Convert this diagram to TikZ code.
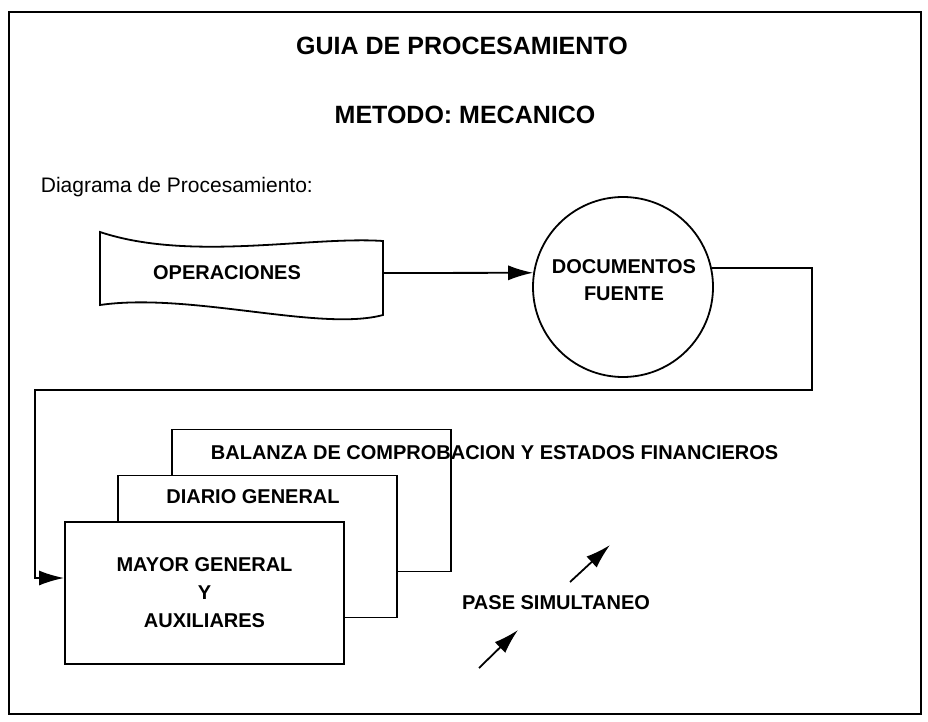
\documentclass[tikz,border=0pt]{standalone}
\usepackage{fontspec}
\setmainfont{Liberation Sans}
\usepackage{tikz}
\usetikzlibrary{arrows.meta}

\begin{document}
\begin{tikzpicture}[x=1pt,y=-1pt,>={Latex[length=25pt,width=15pt]},line width=1.8pt,
	etiq/.style={font=\bfseries\fontsize{20}{27}\selectfont,align=center,inner sep=0pt},
	hoja/.style={draw,fill=white,minimum width=279pt,minimum height=142pt,
		font=\bfseries\fontsize{20}{28}\selectfont,align=center},
	doc/.style={draw,circle,minimum size=180pt,inner sep=0pt}]
	\useasboundingbox (0,0) rectangle (928,722);
	\draw [line width=2.2pt] (9,12) rectangle (921,714);

	\node [font=\bfseries\fontsize{25}{30}\selectfont]	(titulo)	at (462,46)		{GUIA DE PROCESAMIENTO};
	\node [font=\bfseries\fontsize{25}{30}\selectfont]	(metodo)	at (465,115)	{METODO: MECANICO};
	\node [font=\fontsize{21}{25}\selectfont,anchor=base west,inner sep=0pt]	(diag)	at (40,193)	{Diagrama de Procesamiento:};

	% documento de operaciones
	\draw (100,232) .. controls (190,262) and (310,236) .. (383,241) -- (383,315)
		.. controls (320,332) and (190,292) .. (100,305) -- cycle;
	\node [etiq]	(ops)		at (227,273)	{OPERACIONES};
	\coordinate		(ops-e)		at (383,273);

	\node [doc]		(docs)		at (623,287)	{};
	\node [etiq]	(docs-txt)	at (624,280)	{DOCUMENTOS\\FUENTE};

	\draw [->] (ops-e) -- (docs.171);

	% hojas apiladas
	\node [hoja]				(balanza)		at (311.5,500.5)	{};
	\node [etiq,anchor=west]	(balanza-txt)	at (210,453)		{BALANZA DE COMPROBACION Y ESTADOS FINANCIEROS};
	\node [hoja]				(diario)		at (257.5,546.5)	{};
	\node [etiq]				(diario-txt)	at (253,497)		{DIARIO GENERAL};
	\node [hoja]				(mayor)			at (204.5,593)		{MAYOR GENERAL\\Y\\AUXILIARES};

	\coordinate (vuelta-d) at (812,390);
	\coordinate (vuelta-i) at (35,390);
	\draw [->] (docs.12) -| (vuelta-d) -- (vuelta-i) |- ([yshift=15pt]mayor.west);

	% pase simultaneo
	\node [etiq]	(pase)	at (556,603)	{PASE SIMULTANEO};
	\coordinate (p1) at (570,582);	\coordinate (p1h) at (610,545);
	\coordinate (p2) at (479,668);	\coordinate (p2h) at (518,630);
	\draw [->] (p1) -- (p1h);
	\draw [->] (p2) -- (p2h);
\end{tikzpicture}
\end{document}
